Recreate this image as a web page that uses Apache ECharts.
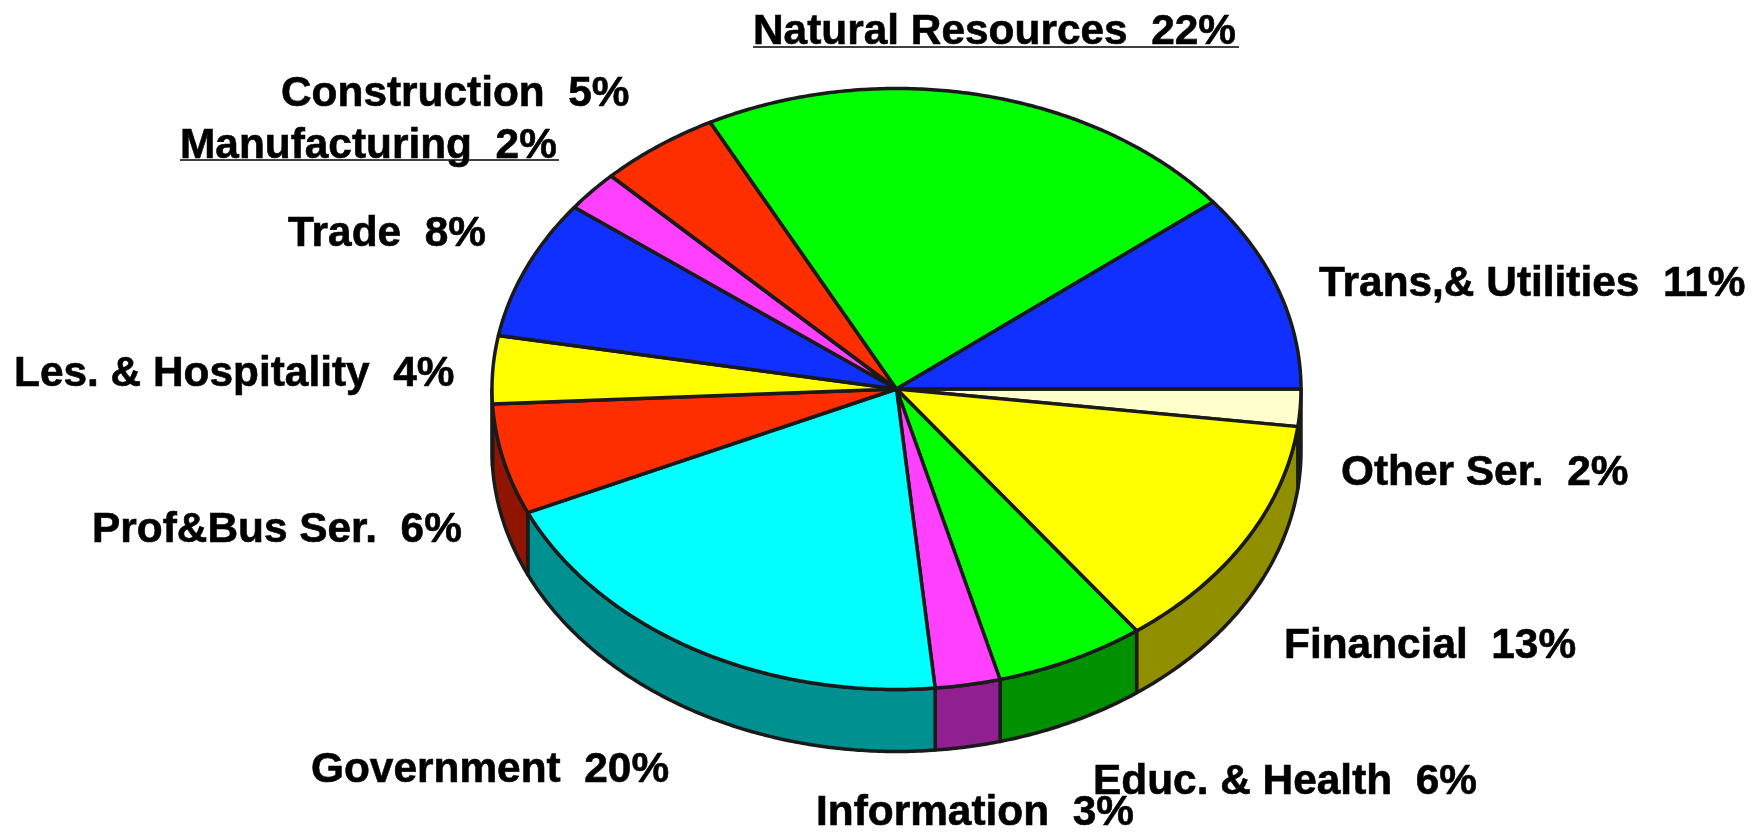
<!DOCTYPE html>
<html>
<head>
<meta charset="utf-8">
<style>
html,body{margin:0;padding:0;background:#fff;}
#local{width:1763px;height:832px;}
</style>
<script src="https://cdn.jsdelivr.net/npm/echarts@6/dist/echarts.min.js"></script>
</head>
<body>
<div id="local"></div>
<script>
// slices clockwise from 3 o'clock
var names = ['Other Ser.', 'Financial', 'Educ. & Health', 'Information', 'Government', 'Prof&Bus Ser.',
	'Les. & Hospitality', 'Trade', 'Manufacturing', 'Construction', 'Natural Resources', 'Trans,& Utilities'];
var shares = [2.0, 12.9, 6.0, 2.6, 19.8, 5.95, 3.65, 7.5, 2.2, 4.85, 21.95, 10.7];
var printed = [2, 13, 6, 3, 20, 6, 4, 8, 2, 5, 22, 11];
var topColors = ['#ffffcc', '#ffff00', '#00ff00', '#ff40ff', '#00ffff', '#ff2e00',
	'#ffff00', '#0f30ff', '#ff40ff', '#ff2e00', '#00ff00', '#0f30ff'];
var sideColors = ['#8f8f73', '#8f8f00', '#009000', '#902090', '#009090', '#8f1500',
	'#8f8f00', '#08198f', '#902090', '#8f1500', '#009000', '#08198f'];

// label anchor: left x, middle y
var labelX = [1341, 1284, 1093, 816, 311, 92, 14, 288, 180, 281, 753, 1319];
var labelY = [473, 646, 782, 813, 770, 530, 374, 234, 146, 94, 32, 284];
var underlined = {'Manufacturing': [180, 559, 160], 'Natural Resources': [753, 1239, 47]};

var cx = 896.5, cy = 389, rx = 404.5, ry = 300.5, depth = 62;
var lineColor = '#1a1a1a';

var total = shares.reduce(function (a, b) { return a + b; }, 0);
var slices = [];
var run = 0;
for (var i = 0; i < shares.length; i++) {
	slices.push([run / total * 360, (run + shares[i]) / total * 360, i]);
	run += shares[i];
}

function rimPoint(deg, dy) {
	var a = deg * Math.PI / 180;
	return [cx + rx * Math.cos(a), cy + ry * Math.sin(a) + dy];
}

function arcPoints(from, to, dy) {
	var pts = [];
	var n = Math.max(2, Math.ceil(Math.abs(to - from) * 2));
	for (var k = 0; k <= n; k++) {
		pts.push(rimPoint(from + (to - from) * k / n, dy));
	}
	return pts;
}

function renderTop(params, api) {
	var idx = api.value(2);
	var pts = [[cx, cy]].concat(arcPoints(api.value(0), api.value(1), 0));
	return {
		type: 'polygon',
		shape: {points: pts},
		style: {fill: topColors[idx], stroke: lineColor, lineWidth: 3.5, lineJoin: 'round'}
	};
}

function renderSide(params, api) {
	var idx = api.value(2);
	var a = api.value(0), b = Math.min(api.value(1), 180);
	if (a >= 180) return null;
	var pts = arcPoints(a, b, 0).concat(arcPoints(b, a, depth));
	return {
		type: 'polygon',
		shape: {points: pts},
		style: {fill: sideColors[idx], stroke: lineColor, lineWidth: 3.5, lineJoin: 'round'}
	};
}

var texts = names.map(function (n, i) {
	return {
		type: 'text',
		x: labelX[i],
		y: labelY[i],
		style: {
			text: n + '  ' + printed[i] + '%',
			fill: '#000',
			stroke: '#000',
			lineWidth: 0.6,
			font: 'bold 42.4px "Liberation Sans", Arial, sans-serif',
			verticalAlign: 'middle'
		}
	};
});
var rules = Object.keys(underlined).map(function (k) {
	var u = underlined[k];
	return {
		type: 'line',
		shape: {x1: u[0], y1: u[2], x2: u[1], y2: u[2]},
		style: {stroke: '#000', lineWidth: 1.5}
	};
});

var myChart = echarts.init(document.getElementById('local'));
var option = {
	backgroundColor: '#fff',
	animation: false,
	graphic: texts.concat(rules),
	series: [
		{type: 'custom', coordinateSystem: 'none', renderItem: renderSide, data: slices, z: 1, silent: true},
		{type: 'custom', coordinateSystem: 'none', renderItem: renderTop, data: slices, z: 2, silent: true}
	]
};
myChart.setOption(option);
window.onresize = myChart.resize;
</script>
</body>
</html>
